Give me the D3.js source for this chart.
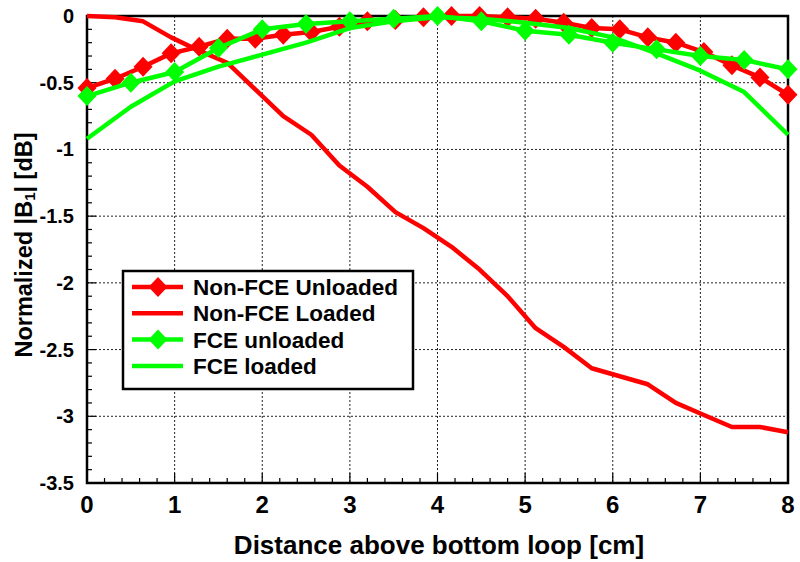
<!DOCTYPE html>
<html><head><meta charset="utf-8">
<script src="https://cdn.jsdelivr.net/npm/d3@7"></script>
<style>body{margin:0;background:#fff}text{font-family:"Liberation Sans",Arial,sans-serif;font-weight:bold}</style>
</head><body><svg id="c" width="800" height="562"></svg>
<script>
// Data
const xRed = [0,0.32,0.64,0.96,1.28,1.6,1.92,2.24,2.56,2.88,3.2,3.52,3.84,4.16,4.48,4.8,5.12,5.44,5.76,6.08,6.4,6.72,7.04,7.36,7.68,8.0];
const nonFceUnloaded = [-0.54,-0.47,-0.38,-0.28,-0.23,-0.17,-0.17,-0.14,-0.12,-0.08,-0.04,-0.03,-0.01,0,0,-0.01,-0.02,-0.05,-0.09,-0.1,-0.16,-0.2,-0.27,-0.37,-0.46,-0.59];
const nonFceLoaded = [0,-0.01,-0.04,-0.16,-0.26,-0.35,-0.55,-0.75,-0.89,-1.12,-1.28,-1.47,-1.59,-1.73,-1.9,-2.1,-2.34,-2.48,-2.64,-2.70,-2.76,-2.90,-2.99,-3.08,-3.08,-3.12];
const xGreen = [0,0.5,1,1.5,2,2.5,3,3.5,4,4.5,5,5.5,6,6.5,7,7.5,8];
const fceUnloaded = [-0.6,-0.5,-0.42,-0.24,-0.1,-0.06,-0.04,-0.02,0,-0.04,-0.11,-0.14,-0.2,-0.25,-0.3,-0.33,-0.4];
const fceLoaded = [-0.92,-0.68,-0.49,-0.38,-0.29,-0.2,-0.09,-0.04,-0.01,-0.02,-0.05,-0.09,-0.16,-0.28,-0.41,-0.57,-0.89];
const xTicks = [0,1,2,3,4,5,6,7,8];
const yTicks = [0,-0.5,-1,-1.5,-2,-2.5,-3,-3.5];
const seriesNames = ["Non-FCE Unloaded","Non-FCE Loaded","FCE unloaded","FCE loaded"];

const svg = d3.select("#c");
const L=87,R=788,T=16,B=483;
const x = d3.scaleLinear().domain([0,8]).range([L,R]);
const y = d3.scaleLinear().domain([-3.5,0]).range([B,T]);
const RED="#ff0000", GREEN="#00ff00";
const diamondPath = "M0,-10L9.5,0L0,10L-9.5,0Z";

// gridlines
const g = svg.append("g");
g.selectAll("line.gx").data(xTicks.slice(1,-1)).join("line")
 .attr("x1",d=>x(d)).attr("x2",d=>x(d)).attr("y1",T).attr("y2",B)
 .attr("stroke","#222").attr("stroke-width",1).attr("stroke-dasharray","2,2");
g.selectAll("line.gy").data(yTicks.slice(1,-1)).join("line")
 .attr("y1",d=>y(d)).attr("y2",d=>y(d)).attr("x1",L).attr("x2",R)
 .attr("stroke","#222").attr("stroke-width",1).attr("stroke-dasharray","2,2");

// minor/major ticks inside
const yMinor = d3.range(0,36).map(i=>-i/10);
svg.append("g").selectAll("line").data(yMinor).join("line")
 .attr("x1",L).attr("x2",d=>L+(Math.abs(d*2-Math.round(d*2))<1e-6?9:5))
 .attr("y1",d=>y(d)).attr("y2",d=>y(d)).attr("stroke","#000").attr("stroke-width",1.2);
const xMinor = d3.range(0,41).map(i=>i/5);
svg.append("g").selectAll("line").data(xMinor).join("line")
 .attr("y1",B).attr("y2",d=>B-(Math.abs(d-Math.round(d))<1e-6?10:5))
 .attr("x1",d=>x(d)).attr("x2",d=>x(d)).attr("stroke","#000").attr("stroke-width",1.2);

// frame
svg.append("rect").attr("x",L).attr("y",T).attr("width",R-L).attr("height",B-T)
 .attr("fill","none").attr("stroke","#000").attr("stroke-width",2.5);

// tick labels
svg.append("g").selectAll("text").data(xTicks).join("text")
 .attr("x",d=>x(d)).attr("y",513).attr("text-anchor","middle")
 .attr("font-size",24).text(d=>d);
svg.append("g").selectAll("text").data(yTicks).join("text")
 .attr("x",74).attr("y",d=>y(d)+7).attr("text-anchor","end")
 .attr("font-size",20).text(d=>d===0?"0":String(d));

// axis titles
svg.append("text").attr("x",(233+645)/2).attr("y",554).attr("text-anchor","middle")
 .attr("font-size",26).text("Distance above bottom loop [cm]");
const yl = svg.append("text").attr("transform","translate(32,245) rotate(-90)")
 .attr("text-anchor","middle").attr("font-size",23.5);
yl.append("tspan").text("Normalized |B");
yl.append("tspan").attr("font-size",15).attr("baseline-shift","-3").text("1");
yl.append("tspan").text("| [dB]");

// lines
const line = (xs)=>d3.line().x((d,i)=>x(xs[i])).y(d=>y(d));
const plot = svg.append("g");
function drawSeries(xs, vals, color, markers){
  plot.append("path").datum(vals).attr("d",line(xs)).attr("fill","none")
   .attr("stroke",color).attr("stroke-width",4.5).attr("stroke-linejoin","round");
  if(markers){
    plot.append("g").selectAll("path").data(vals).join("path")
     .attr("transform",(d,i)=>`translate(${x(xs[i])},${y(d)})`)
     .attr("d",diamondPath).attr("fill",color);
  }
}
drawSeries(xRed, nonFceUnloaded, RED, true);
drawSeries(xRed, nonFceLoaded, RED, false);
drawSeries(xGreen, fceUnloaded, GREEN, true);
drawSeries(xGreen, fceLoaded, GREEN, false);

// legend
const lg = svg.append("g");
lg.append("rect").attr("x",123).attr("y",271).attr("width",290).attr("height",118)
 .attr("fill","#fff").attr("stroke","#000").attr("stroke-width",2.5);
const legColors=[RED,RED,GREEN,GREEN], legMark=[true,false,true,false];
seriesNames.forEach((n,i)=>{
  const yy = 287 + i*26.3;
  lg.append("line").attr("x1",132).attr("x2",183).attr("y1",yy).attr("y2",yy)
   .attr("stroke",legColors[i]).attr("stroke-width",4.5);
  if(legMark[i]) lg.append("path").attr("transform",`translate(158,${yy})`)
   .attr("d",diamondPath).attr("fill",legColors[i]);
  lg.append("text").attr("x",193).attr("y",yy+8).attr("font-size",22.5).text(n);
});
</script></body></html>
